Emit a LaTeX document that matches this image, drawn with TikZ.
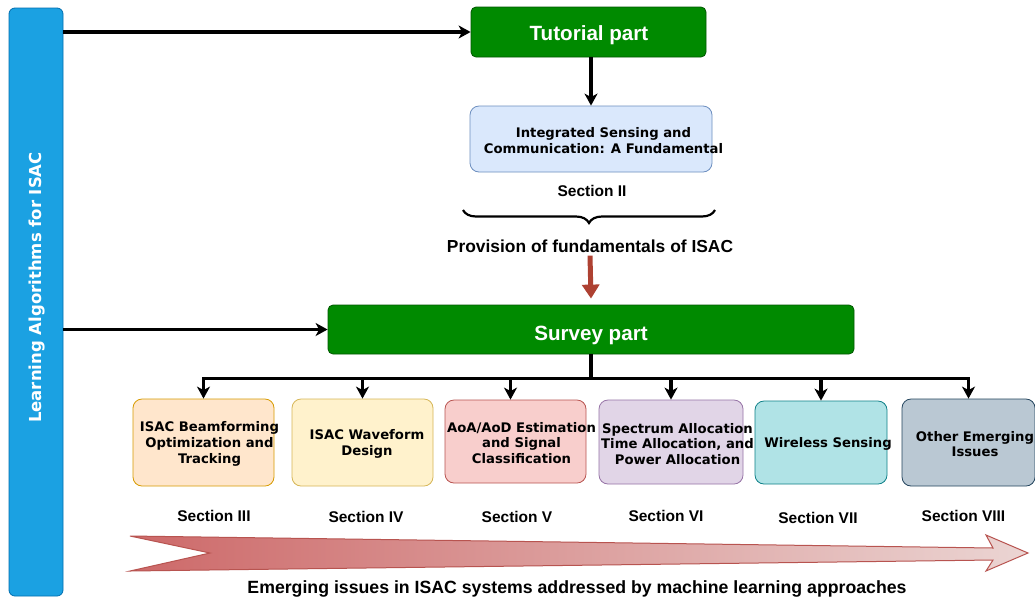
\documentclass[tikz,border=0pt]{standalone}
\usepackage{fontspec}
\setmainfont{DejaVu Sans}
\newfontfamily\arialf{Liberation Sans}
\usetikzlibrary{arrows.meta,decorations.pathreplacing,calc}
\definecolor{barblue}{HTML}{1BA1E2}
\definecolor{barborder}{HTML}{006EAF}
\definecolor{grn}{HTML}{008A00}
\definecolor{grnb}{HTML}{005700}
\definecolor{fundf}{HTML}{DAE8FC}
\definecolor{fundb}{HTML}{6C8EBF}
\definecolor{orf}{HTML}{FFE6CC}
\definecolor{orb}{HTML}{D79B00}
\definecolor{yef}{HTML}{FFF2CC}
\definecolor{yeb}{HTML}{D6B656}
\definecolor{rdf}{HTML}{F8CECC}
\definecolor{rdb}{HTML}{B85450}
\definecolor{puf}{HTML}{E1D5E7}
\definecolor{pub}{HTML}{9673A6}
\definecolor{tef}{HTML}{B0E3E6}
\definecolor{teb}{HTML}{0E8088}
\definecolor{grf}{HTML}{BAC8D3}
\definecolor{grb}{HTML}{23445D}
\definecolor{arrowred}{HTML}{AE4132}
\definecolor{gradl}{RGB}{205,105,105}
\definecolor{gradr}{RGB}{235,213,211}
\tikzset{
  box/.style={draw, rounded corners=9pt, line width=0.8pt, inner sep=0pt},
  greenbox/.style={draw=grnb, fill=grn, rounded corners=5pt, line width=0.8pt, inner sep=0pt},
  greentext/.style={text=white, font=\arialf\bfseries\fontsize{20.6}{24}\selectfont, inner sep=0pt, anchor=base},
  btext/.style={font=\bfseries\fontsize{13.2}{15.8}\selectfont, align=center, inner sep=0pt},
  sec/.style={font=\arialf\bfseries\fontsize{15.5}{18}\selectfont, inner sep=0pt},
  conn/.style={line width=3.3pt},
  arr/.style={conn, -{Stealth[length=12pt,width=13pt,inset=3.5pt]}},
}
\begin{document}
\begin{tikzpicture}[x=1pt,y=-1pt]
\useasboundingbox (0,0) rectangle (1035,606);
\fill[white] (0,0) rectangle (1035,606);

% left bar
\node[draw=barborder, fill=barblue, rounded corners=6pt, line width=0.8pt, minimum width=54pt, minimum height=588pt, inner sep=0pt] (bar) at (36,302) {};
\node[rotate=90, text=white, font=\bfseries\fontsize{16.5}{18}\selectfont, inner sep=0pt] (bartext) at (37,287.5) {Learning Algorithms for ISAC};

% tutorial
\node[greenbox, minimum width=235pt, minimum height=50pt] (tut) at (588.5,32) {};
\node[greentext] (tutt) at (589,40) {Tutorial part};
\node[box, draw=fundb, fill=fundf, minimum width=242pt, minimum height=66pt] (fund) at (591,139) {};
\node[btext] (fundt) at (603.5,140.5) {Integrated Sensing and\\Communication: A Fundamental};
\node[sec] (sec2) at (592,191) {Section II};
\coordinate (bl) at (463,210);
\coordinate (br) at (715,210);
\draw[line width=2.2pt, decorate, decoration={brace, amplitude=13pt, mirror}] (bl) -- (br);
\node[font=\arialf\bfseries\fontsize{17.4}{20}\selectfont, inner sep=0pt] (prov) at (590,246) {Provision of fundamentals of ISAC};

% survey
\node[greenbox, minimum width=526pt, minimum height=49pt] (survey) at (591,329.5) {};
\node[greentext] (survt) at (591,340) {Survey part};

\draw[arr] (bar.east |- tut.west) -- (tut.west);
\draw[arr] (bar.east |- survey.west) -- (survey.west);
\draw[arr] (fund.north |- tut.south) -- (fund.north);
\draw[line width=5pt, arrowred, -{Triangle[length=14pt,width=17pt]}] ([yshift=-3pt]prov.south) -- ([yshift=6pt]survey.north);

% boxes
\node[box, draw=orb, fill=orf, minimum width=141pt, minimum height=87pt] (b1) at (203.5,442.5) {};
\node[box, draw=yeb, fill=yef, minimum width=141pt, minimum height=87pt] (b2) at (362.5,442.5) {};
\node[box, draw=rdb, fill=rdf, minimum width=141pt, minimum height=83pt] (b3) at (515.5,441.5) {};
\node[box, draw=pub, fill=puf, minimum width=144pt, minimum height=84pt] (b4) at (671,442) {};
\node[box, draw=teb, fill=tef, minimum width=132pt, minimum height=83pt] (b5) at (821,442.5) {};
\node[box, draw=grb, fill=grf, minimum width=133pt, minimum height=87pt] (b6) at (968.5,442.5) {};

\node[btext] (t1) at (209.5,444) {ISAC Beamforming\\Optimization and\\Tracking};
\node[btext] (t2) at (367,444) {ISAC Waveform\\Design};
\node[btext] (t3) at (521.5,443) {AoA/AoD Estimation\\and Signal\\Classification};
\node[btext] (t4) at (677.5,444) {Spectrum Allocation\\Time Allocation, and\\Power Allocation};
\node[btext] (t5) at (828,444) {Wireless Sensing};
\node[btext] (t6) at (975,444) {Other Emerging\\Issues};

% tree
\draw[conn] (survey.south) -- ++(0,24) coordinate (j);
\draw[arr] (j) -| (b1.north);
\draw[arr] (j) -| (b2.north);
\draw[arr] (j) -| ([xshift=-5pt]b3.north);
\draw[arr] (j) -| (b4.north);
\draw[arr] (j) -| (b5.north);
\draw[arr] (j) -| (b6.north);

% section labels
\node[sec] (s3) at (214,516) {Section III};
\node[sec] (s4) at (366,517) {Section IV};
\node[sec] (s5) at (517,517) {Section V};
\node[sec] (s6) at (666,516) {Section VI};
\node[sec] (s7) at (818,518) {Section VII};
\node[sec] (s8) at (963.5,516) {Section VIII};

% big arrow
\path[draw=rdb, line width=1pt, left color=gradl, right color=gradr]
  (130,536) -- (993,548) -- (986,535) -- (1028,553) -- (986,571) -- (993,560) -- (130,571) -- (210,553) -- cycle;
\node[font=\arialf\bfseries\fontsize{17.7}{20}\selectfont, inner sep=0pt] (emerg) at (577,589) {Emerging issues in ISAC systems addressed by machine learning approaches};
\end{tikzpicture}
\end{document}
